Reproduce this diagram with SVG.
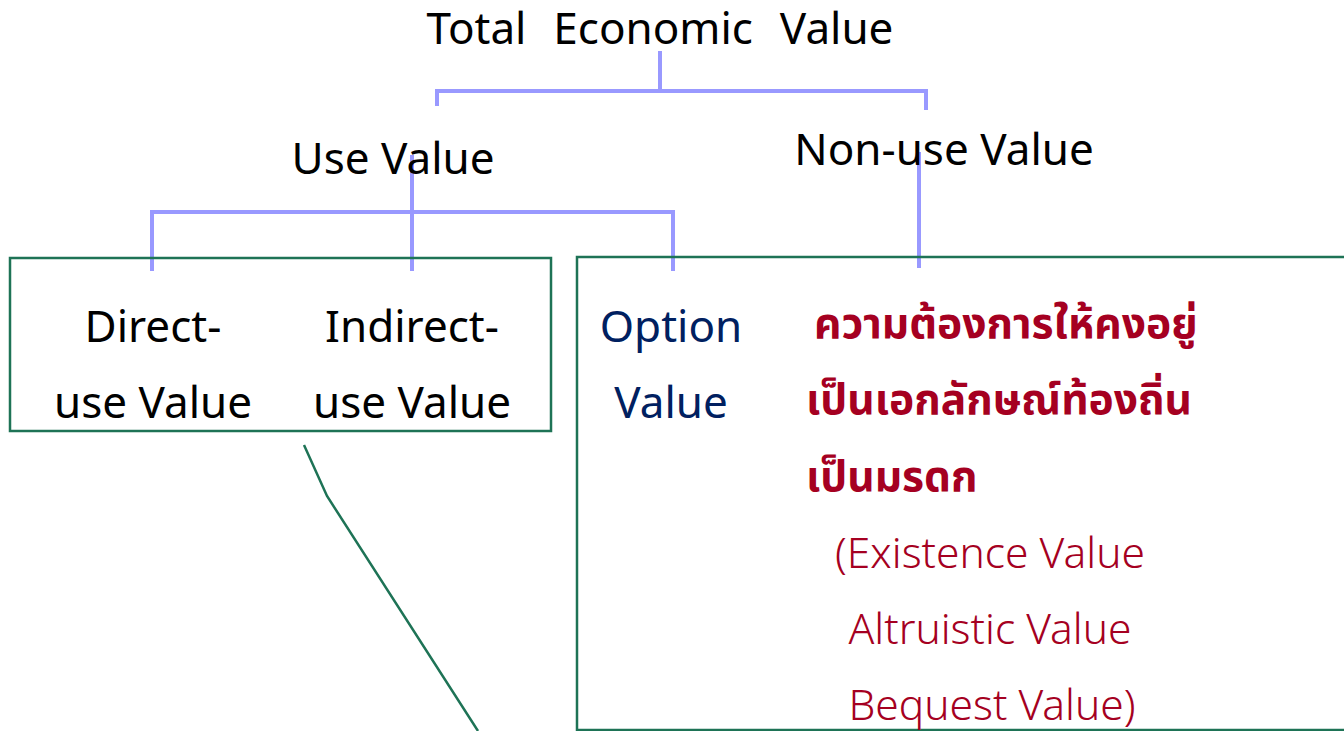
<svg xmlns="http://www.w3.org/2000/svg" width="1344" height="731" viewBox="0 0 1344 731">
<style>
.t{font-family:"Noto Sans","Open Sans","DejaVu Sans",sans-serif;font-size:44px;fill:#000;text-anchor:middle}
.nv{fill:#002060}
.th{font-family:"Noto Sans Thai","Noto Sans","DejaVu Sans",sans-serif;font-size:42.5px;font-weight:bold;fill:#A50021}
.rd{fill:#A50021;font-size:42.5px;font-weight:300}
.bl{stroke:#9999FF;stroke-width:4;fill:none}
.gr{stroke:#1E7356;stroke-width:2.5;fill:none}
</style>
<rect width="1344" height="731" fill="#fff"/>
<g id="connectors">
<path class="bl" d="M660 51V91M437 106V91H926V110"/>
<path class="bl" d="M412 155V271M152 271V212H673V271"/>
<path class="bl" d="M919 152V268"/>
<path class="gr" d="M304 445L327 496L478 731"/>
</g>
<g id="total"><text class="t" x="660" y="44" font-size="45" word-spacing="2" xml:space="preserve">Total  Economic  Value</text></g>
<g id="use"><text class="t" x="393" y="174">Use Value</text></g>
<g id="nonuse"><text class="t" x="944" y="165">Non-use Value</text></g>
<g id="usebox"><rect class="gr" x="10" y="258" width="541" height="173"/></g>
<g id="direct"><text class="t" x="153" y="342">Direct-</text><text class="t" x="153" y="418">use Value</text></g>
<g id="indirect"><text class="t" x="412" y="342">Indirect-</text><text class="t" x="412" y="418">use Value</text></g>
<g id="nonusebox"><rect class="gr" x="577" y="257" width="800" height="473"/></g>
<g id="option"><text class="t nv" x="671" y="342">Option</text><text class="t nv" x="671" y="418">Value</text></g>
<g id="existence">
<text class="th" x="814" y="338">ความต้องการให้คงอยู่</text>
<text class="th" x="806" y="414">เป็นเอกลักษณ์ท้องถิ่น</text>
<text class="th" x="806" y="491">เป็นมรดก</text>
<text class="t rd" x="990" y="568">(Existence Value</text>
<text class="t rd" x="990" y="644">Altruistic Value</text>
<text class="t rd" x="992" y="720">Bequest Value)</text>
</g>
</svg>
